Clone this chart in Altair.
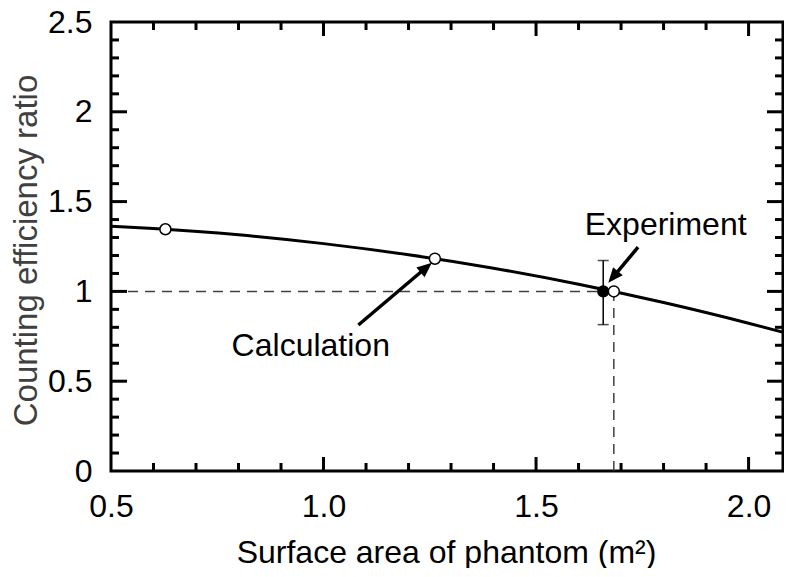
import math
import altair as alt
import pandas as pd

# ---------------- data ----------------
curve_x = [0.5, 0.6, 0.8, 1.0, 1.2, 1.4, 1.6, 1.8, 2.0, 2.1]
curve_y = [1.363, 1.350, 1.315, 1.266, 1.204, 1.129, 1.040, 0.938, 0.823, 0.761]

calc_x = [0.628, 1.262, 1.683]
calc_y = [1.346, 1.182, 1.000]

exp_x = [1.658]
exp_y = [1.000]
exp_lo = [0.815]
exp_hi = [1.172]

ref_level = 1.0            # dashed guide lines
ref_area = 1.683

arrow_names = ["Experiment", "Calculation"]
arrow_tail_x = [1.740, 1.082]
arrow_tail_y = [1.246, 0.813]
arrow_tip_x = [1.670, 1.255]
arrow_tip_y = [1.048, 1.160]

label_text = ["Experiment", "Calculation"]
label_x = [1.805, 0.970]
label_y = [1.314, 0.640]

x_domain = [0.5, 2.081]
y_domain = [0.0, 2.5]
x_labels = [0.5, 1.0, 1.5, 2.0]
y_labels = [0.0, 0.5, 1.0, 1.5, 2.0, 2.5]
x_major_ticks = [1.0, 1.5, 2.0]
x_minor_ticks = [0.6, 0.7, 0.8, 0.9, 1.1, 1.2, 1.3, 1.4, 1.6, 1.7, 1.8, 1.9]
y_major_ticks = [0.5, 1.0, 1.5, 2.0]
y_minor_ticks = [0.1, 0.2, 0.3, 0.4, 0.6, 0.7, 0.8, 0.9, 1.1, 1.2, 1.3, 1.4,
                 1.6, 1.7, 1.8, 1.9, 2.1, 2.2, 2.3, 2.4]

# ---------------- layout ----------------
W, H = 672, 449
FONT = "Liberation Sans"
MAJ, MIN = 14, 8

xs = alt.Scale(domain=x_domain, nice=False, zero=False)
ys = alt.Scale(domain=y_domain, nice=False, zero=False)

x_axis = alt.Axis(values=x_labels, format=".1f", title="Surface area of phantom (m²)",
                  ticks=False, tickSize=0, domain=False, grid=False,
                  labelFontSize=32, labelFont=FONT, labelColor="black",
                  labelPadding=20, labelFlush=False, labelOverlap=False,
                  titleFont=FONT, titleFontSize=32, titleFontWeight="normal",
                  titleColor="black", titleX=335, titleY=91,
                  titleBaseline="alphabetic", titleAlign="center")
y_axis = alt.Axis(values=y_labels, format="~g", title="Counting efficiency ratio",
                  ticks=False, tickSize=0, domain=False, grid=False,
                  labelFontSize=32, labelFont=FONT, labelColor="black",
                  labelPadding=19, labelFlush=False, labelOverlap=False,
                  titleFont=FONT, titleFontSize=33, titleFontWeight="normal",
                  titleColor="#404040", titleX=-75, titleY=228, titleAngle=270,
                  titleBaseline="alphabetic", titleAlign="center")

X = lambda f="x": alt.X(f"{f}:Q", scale=xs, axis=x_axis)
Y = lambda f="y": alt.Y(f"{f}:Q", scale=ys, axis=y_axis)

curve_df = pd.DataFrame({"x": curve_x, "y": curve_y})
calc_df = pd.DataFrame({"x": calc_x, "y": calc_y})
exp_df = pd.DataFrame({"x": exp_x, "y": exp_y, "lo": exp_lo, "hi": exp_hi})
caps_df = pd.DataFrame({"x": exp_x * 2, "y": exp_lo + exp_hi})

hdash_df = pd.DataFrame({"x": [x_domain[0]], "x2": exp_x, "y": [ref_level]})
vdash_df = pd.DataFrame({"x": [ref_area], "y": [y_domain[0]], "y2": [ref_level]})

# arrows
px_x = W / (x_domain[1] - x_domain[0])
px_y = H / (y_domain[1] - y_domain[0])
HEAD = 15
shaft_rows, head_rows = [], []
for n, tx, ty, hx, hy in zip(arrow_names, arrow_tail_x, arrow_tail_y, arrow_tip_x, arrow_tip_y):
    dxp = (hx - tx) * px_x
    dyp = -(hy - ty) * px_y
    L = math.hypot(dxp, dyp)
    ang = math.degrees(math.atan2(dxp, -dyp)) % 360
    back = 0.6 * HEAD / L
    nx = hx - (hx - tx) * back
    ny = hy - (hy - ty) * back
    shaft_rows += [{"a": n, "o": 0, "x": tx, "y": ty}, {"a": n, "o": 1, "x": nx, "y": ny}]
    head_rows.append({"a": n, "x": hx, "y": hy, "ang": ang})
shaft_df = pd.DataFrame(shaft_rows)
head_df = pd.DataFrame(head_rows)
text_df = pd.DataFrame({"t": label_text, "x": label_x, "y": label_y})

layers = []
layers.append(alt.Chart(hdash_df).mark_rule(color="#404040", strokeWidth=1.5, strokeDash=[10, 7])
              .encode(x=X(), x2="x2:Q", y=Y()))
layers.append(alt.Chart(vdash_df).mark_rule(color="#404040", strokeWidth=1.5, strokeDash=[10, 7])
              .encode(x=X(), y=Y(), y2="y2:Q"))
layers.append(alt.Chart(curve_df).mark_line(color="black", strokeWidth=3, interpolate="monotone", clip=True)
              .encode(x=X(), y=Y()))
layers.append(alt.Chart(exp_df).mark_rule(color="black", strokeWidth=1.5)
              .encode(x=X(), y=Y("lo"), y2="hi:Q"))
layers.append(alt.Chart(caps_df).mark_tick(orient="horizontal", color="black", size=11, thickness=1.5)
              .encode(x=X(), y=Y()))
layers.append(alt.Chart(exp_df).mark_point(shape="circle", filled=True, color="black", size=150, opacity=1)
              .encode(x=X(), y=Y()))
layers.append(alt.Chart(calc_df).mark_point(shape="circle", filled=True, fill="white", stroke="black",
                                            strokeWidth=1.5, size=121, opacity=1)
              .encode(x=X(), y=Y()))
layers.append(alt.Chart(shaft_df).mark_line(color="black", strokeWidth=3.5, strokeCap="butt")
              .encode(x=X(), y=Y(), detail="a:N", order="o:Q"))
layers.append(alt.Chart(head_df).mark_point(shape="M0,0 L0.42,1 L-0.42,1 Z", filled=True, color="black",
                                            size=(2 * HEAD) ** 2, opacity=1, strokeWidth=0)
              .encode(x=X(), y=Y(), angle=alt.Angle("ang:Q", scale=None)))
layers.append(alt.Chart(text_df).mark_text(font=FONT, fontSize=32, color="black", align="center",
                                           baseline="alphabetic")
              .encode(x=X(), y=Y(), text="t:N"))

# inward ticks on all four sides
xmaj = pd.DataFrame({"x": x_major_ticks})
xmin = pd.DataFrame({"x": x_minor_ticks})
ymaj = pd.DataFrame({"y": y_major_ticks})
ymin = pd.DataFrame({"y": y_minor_ticks})
for df, ln in ((xmaj, MAJ), (xmin, MIN)):
    layers.append(alt.Chart(df).mark_rule(color="black", strokeWidth=3)
                  .encode(x=X(), y=alt.value(H), y2=alt.value(H - ln)))
    layers.append(alt.Chart(df).mark_rule(color="black", strokeWidth=3)
                  .encode(x=X(), y=alt.value(0), y2=alt.value(ln)))
for df, ln in ((ymaj, MAJ + 2), (ymin, MIN)):
    layers.append(alt.Chart(df).mark_rule(color="black", strokeWidth=3)
                  .encode(y=Y(), x=alt.value(0), x2=alt.value(ln)))
    layers.append(alt.Chart(df).mark_rule(color="black", strokeWidth=3)
                  .encode(y=Y(), x=alt.value(W), x2=alt.value(W - ln)))

chart = (alt.layer(*layers)
         .properties(width=W, height=H, autosize=alt.AutoSizeParams(type="none"),
                     padding={"left": 103, "top": 14, "right": 1, "bottom": 97},
                     background="white")
         .configure_view(stroke="black", strokeWidth=3))

chart.save("out.html", embed_options={"renderer": "svg", "actions": False})
